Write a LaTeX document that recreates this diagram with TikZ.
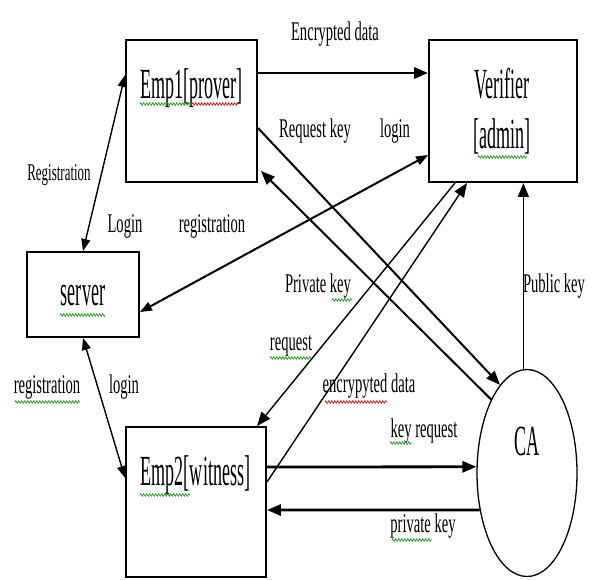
\documentclass[tikz,border=0pt]{standalone}
\usepackage{fontspec}
\setmainfont{Liberation Serif}
\usepackage{graphicx}
\usetikzlibrary{arrows.meta,shapes.geometric,decorations.pathmorphing}
\newcommand{\mx}[1]{\scalebox{0.42}[1]{#1}}
\newcommand{\sx}[1]{\scalebox{0.54}[1]{#1}}
\definecolor{spgreen}{RGB}{30,160,30}
\definecolor{spred}{RGB}{230,20,20}
\begin{document}
\begin{tikzpicture}[x=1pt,y=-1pt,
  box/.style={draw,line width=1.9pt,inner sep=0pt,rectangle},
  big/.style={anchor=base,inner sep=0pt,font=\fontsize{43}{43}\selectfont},
  lbl/.style={anchor=base,inner sep=0pt,font=\fontsize{27}{27}\selectfont},
  oneway/.style={-{Triangle[length=14pt,width=11pt]}},
  twoway/.style={{Triangle[length=12pt,width=9pt]}-{Triangle[length=12pt,width=9pt]}},
  thinln/.style={line width=1.4pt},
  medln/.style={line width=2pt},
  thickln/.style={line width=2.8pt},
  spell/.style={decorate,decoration={zigzag,segment length=3pt,amplitude=1.3pt},line width=0.7pt}
]
\useasboundingbox (0,0) rectangle (593,579);

% boxes
\node[box,minimum width=131pt,minimum height=142pt] (emp1) at (191.5,111) {};
\node[box,minimum width=148pt,minimum height=142pt] (ver) at (503,111) {};
\node[box,minimum width=112pt,minimum height=85pt] (server) at (83,294.5) {};
\node[box,minimum width=140pt,minimum height=150pt] (emp2) at (196,502) {};
\node[draw,ellipse,line width=1.3pt,minimum width=100pt,minimum height=207pt,inner sep=0pt] (ca) at (527,473) {};

% box texts
\node[big] (tEmp1) at (191.5,98) {\mx{Emp1[prover]}};
\node[big] (tVer1) at (502,98) {\mx{Verifier}};
\node[big] (tVer2) at (502,148) {\mx{[admin]}};
\node[big] (tServer) at (83,305) {\mx{server}};
\node[big] (tEmp2) at (195.5,485) {\mx{Emp2[witness]}};
\node[big] (tCA) at (527,455) {\mx{CA}};

% connectors
\draw[thickln,oneway] ([yshift=38pt]emp1.east) -- ([yshift=38pt]ver.west);
\draw[thinln,twoway] (server.north) -- ([yshift=36pt]emp1.west);
\draw[medln,oneway] ([yshift=-17pt]emp1.east) -- (ca.107);
\draw[medln,oneway] (ca.116.6) -- ([xshift=3pt,yshift=12pt]emp1.south east);
\draw[medln,twoway] ([yshift=-17.5pt]server.east) -- ([yshift=-44pt]ver.west);
\draw[thinln,oneway] ([xshift=-48pt]ver.south) -- ([xshift=61pt]emp2.north);
\draw[thinln,oneway] ([yshift=20pt]emp2.east) -- ([xshift=-36pt]ver.south);
\draw[thickln,oneway] ([yshift=35pt]emp2.east) -- (ca.173.1);
\draw[thickln,oneway] (ca.218.4) -- ([yshift=-8pt]emp2.east);
\draw[thinln,oneway] (ca.92.5) -- (ca.92.5 |- ver.south);
\draw[thinln,twoway] (server.south) -- ([yshift=24pt]emp2.west);

% labels
\node[lbl] (lEnc) at (335,40) {\sx{Encrypted data}};
\node[lbl,font=\fontsize{24}{24}\selectfont] (lReg1) at (59,180) {\sx{Registration}};
\node[lbl] (lLog1) at (125,232) {\sx{Login}};
\node[lbl] (lReg2) at (212,232) {\sx{registration}};
\node[lbl] (lReq) at (315,137) {\sx{Request key}};
\node[lbl] (lLog2) at (395,137) {\sx{login}};
\node[lbl] (lPriv1) at (318,292) {\sx{Private key}};
\node[lbl] (lRequest) at (291,350) {\sx{request}};
\node[lbl] (lEncr) at (369,392) {\sx{encrypyted data}};
\node[lbl] (lKeyReq) at (424,437) {\sx{key request}};
\node[lbl] (lPriv2) at (423,532) {\sx{private key}};
\node[lbl] (lPub) at (554,292) {\sx{Public key}};
\node[lbl] (lReg3) at (47,393) {\sx{registration}};
\node[lbl] (lLog3) at (124,393) {\sx{login}};

% spell-check squiggles
\draw[spell,spgreen] (140,104) -- (192,104);
\draw[spell,spred] (192,104) -- (238,104);
\draw[spell,spgreen] (478,157) -- (527,157);
\draw[spell,spgreen] (60,315) -- (105,315);
\draw[spell,spgreen] (140,495) -- (190,495);
\draw[spell,spgreen] (332,300) -- (352,300);
\draw[spell,spgreen] (270,358) -- (311,358);
\draw[spell,spred] (325,402) -- (387,402);
\draw[spell,spgreen] (390,443) -- (412,443);
\draw[spell,spgreen] (392,540) -- (432,540);
\draw[spell,spgreen] (15,402) -- (80,402);
\end{tikzpicture}
\end{document}
